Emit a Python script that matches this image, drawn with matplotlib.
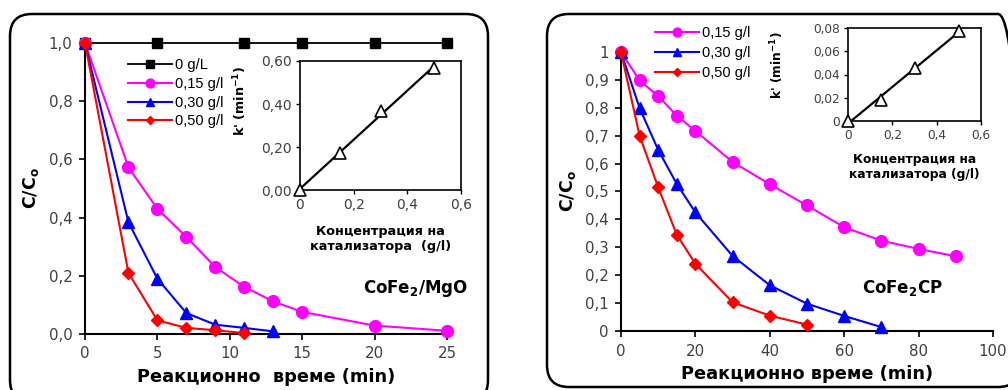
import numpy as np
import matplotlib
matplotlib.use("Agg")
import matplotlib.pyplot as plt
from matplotlib.patches import FancyBboxPatch
from matplotlib.ticker import FuncFormatter, MultipleLocator

plt.rcParams['font.family'] = ['DejaVu Sans']
LEG_FONT = ['Liberation Sans', 'DejaVu Sans']

# --- CoFe2/MgO ---
t_mgo_0 = [0, 5, 11, 15, 20, 25]
c_mgo_0 = [1.0, 1.0, 1.0, 1.0, 1.0, 1.0]
t_mgo_15 = [0, 3, 5, 7, 9, 11, 13, 15, 20, 25]
c_mgo_15 = [1.0, 0.573, 0.43, 0.334, 0.23, 0.162, 0.112, 0.076, 0.029, 0.011]
t_mgo_30 = [0, 3, 5, 7, 9, 11, 13]
c_mgo_30 = [1.0, 0.384, 0.19, 0.072, 0.032, 0.021, 0.009]
t_mgo_50 = [0, 3, 5, 7, 9, 11]
c_mgo_50 = [1.0, 0.21, 0.047, 0.021, 0.013, 0.003]

# --- CoFe2CP ---
t_cp_15 = [0, 5, 10, 15, 20, 30, 40, 50, 60, 70, 80, 90]
c_cp_15 = [1.0, 0.898, 0.842, 0.772, 0.717, 0.606, 0.526, 0.450, 0.372, 0.324, 0.294, 0.268]
t_cp_30 = [0, 5, 10, 15, 20, 30, 40, 50, 60, 70]
c_cp_30 = [1.0, 0.799, 0.649, 0.527, 0.425, 0.269, 0.164, 0.098, 0.054, 0.014]
t_cp_50 = [0, 5, 10, 15, 20, 30, 40, 50]
c_cp_50 = [1.0, 0.700, 0.515, 0.345, 0.241, 0.103, 0.055, 0.023]

# rate constants vs catalyst loading
conc = [0, 0.15, 0.30, 0.50]
k_mgo = [0.0, 0.174, 0.367, 0.566]
k_cp = [0.0, 0.0178, 0.0459, 0.0771]

W, H = 1008, 390
fig = plt.figure(figsize=(W / 100, H / 100), dpi=100)


def px_axes(x0, y0, x1, y1):
    # pixel box (top-left origin) -> figure fraction axes
    return fig.add_axes([x0 / W, 1 - y1 / H, (x1 - x0) / W, (y1 - y0) / H])


def comma(fmt, zero=None):
    def f(v, p):
        if zero is not None and abs(v) < 1e-9:
            return zero
        return (fmt % v).replace('.', ',')
    return FuncFormatter(f)


# rounded frames around each panel
for (x0, y0, x1, y1) in [(10, 14, 488, 402), (547, 14, 1020, 387)]:
    box = FancyBboxPatch((x0 / 100, (H - y1) / 100), (x1 - x0) / 100, (y1 - y0) / 100,
                         boxstyle="round,pad=0,rounding_size=0.22",
                         transform=fig.dpi_scale_trans, fill=False,
                         edgecolor='black', linewidth=1.8, clip_on=False)
    fig.add_artist(box)

tick_col = '#404040'


def style_main(ax):
    for s in ['top', 'right']:
        ax.spines[s].set_visible(False)
    for s in ['left', 'bottom']:
        ax.spines[s].set_linewidth(1.5)
    ax.tick_params(direction='out', length=4, width=1.2, labelsize=10.8,
                   labelcolor=tick_col, pad=5)
    ax.set_facecolor('none')


def style_inset(ax, size):
    for s in ax.spines.values():
        s.set_linewidth(1.2)
    ax.tick_params(direction='out', length=3, width=1.0, labelsize=size,
                   labelcolor=tick_col, pad=3)


def add_legend(ax, x, y, spacing):
    ax.legend(loc='upper left', bbox_to_anchor=(x / W, 1 - y / H), bbox_transform=fig.transFigure,
              frameon=False, prop={'family': LEG_FONT, 'size': 10.5}, handlelength=3.0,
              handletextpad=0.25, labelspacing=spacing, borderpad=0, borderaxespad=0,
              markerscale=0.75)


# ---------------- left panel ----------------
ax1 = px_axes(85, 43, 447, 334)
style_main(ax1)
ax1.plot(t_mgo_0, c_mgo_0, '-s', color='black', ms=7.5, lw=1.3, label='0 g/L', clip_on=False, zorder=3)
ax1.plot(t_mgo_15, c_mgo_15, '-o', color='#FF00FF', ms=8.5, lw=1.5, label='0,15 g/l', clip_on=False, zorder=3)
ax1.plot(t_mgo_30, c_mgo_30, '-^', color='#0000FF', ms=8.5, lw=1.5, label='0,30 g/l', clip_on=False, zorder=4)
ax1.plot(t_mgo_50, c_mgo_50, '-D', color='#FF0000', ms=6, lw=1.5, label='0,50 g/l', clip_on=False, zorder=5)
ax1.set_xlim(0, 25)
ax1.set_ylim(0, 1.0)
ax1.xaxis.set_major_locator(MultipleLocator(5))
ax1.yaxis.set_major_locator(MultipleLocator(0.2))
ax1.yaxis.set_major_formatter(comma('%.1f'))
ax1.set_xlabel('Реакционно  време (min)', fontsize=12.8, fontweight='bold', labelpad=5)
ax1.set_ylabel('C/C$_\\mathbf{o}$', fontsize=12.5, fontweight='bold')
ax1.yaxis.set_label_coords((41 - 85) / 362, 0.5)
add_legend(ax1, 128, 58, 0.33)
ax1.text(363 / W, 1 - 293 / H, 'CoFe$_\\mathbf{2}$/MgO', transform=fig.transFigure, ha='left',
         va='baseline', fontsize=12, fontweight='bold')

ins1 = px_axes(300, 61, 461, 190)
style_inset(ins1, 10)
a, b = np.polyfit(conc, k_mgo, 1)
xf = np.array([conc[0], conc[-1]])
ins1.plot(xf, a * xf + b, '-', color='black', lw=1.6)
ins1.plot(conc, k_mgo, '^', mfc='white', mec='black', mew=1.2, ms=8.5, ls='none', clip_on=False, zorder=3)
ins1.set_xlim(0, 0.6)
ins1.set_ylim(0, 0.6)
ins1.xaxis.set_major_locator(MultipleLocator(0.2))
ins1.yaxis.set_major_locator(MultipleLocator(0.2))
ins1.xaxis.set_major_formatter(comma('%.1f', zero='0'))
ins1.yaxis.set_major_formatter(comma('%.2f'))
ins1.set_xlabel('Концентрация на\nкатализатора  (g/l)', fontsize=9.2, fontweight='bold', labelpad=9,
                linespacing=1.2)
ins1.set_ylabel("k' (min$^{\\mathbf{-1}}$)", fontsize=9.2, fontweight='bold')
ins1.yaxis.set_label_coords((249 - 300) / 161, 0.69)

# ---------------- right panel ----------------
ax2 = px_axes(621, 52, 993, 331)
style_main(ax2)
ax2.plot(t_cp_15, c_cp_15, '-o', color='#FF00FF', ms=8.5, lw=1.5, label='0,15 g/l', clip_on=False, zorder=3)
ax2.plot(t_cp_30, c_cp_30, '-^', color='#0000FF', ms=8.5, lw=1.5, label='0,30 g/l', clip_on=False, zorder=4)
ax2.plot(t_cp_50, c_cp_50, '-D', color='#FF0000', ms=6, lw=1.5, label='0,50 g/l', clip_on=False, zorder=5)
ax2.set_xlim(0, 100)
ax2.set_ylim(0, 1.0)
ax2.xaxis.set_major_locator(MultipleLocator(20))
ax2.yaxis.set_major_locator(MultipleLocator(0.1))
ax2.yaxis.set_major_formatter(FuncFormatter(lambda v, p: ('%g' % round(v, 1)).replace('.', ',')))
ax2.set_xlabel('Реакционно време (min)', fontsize=12.8, fontweight='bold', labelpad=5)
ax2.set_ylabel('C/C$_\\mathbf{o}$', fontsize=12.5, fontweight='bold')
ax2.yaxis.set_label_coords((578 - 621) / 372, 0.5)
add_legend(ax2, 655, 26, 0.42)
ax2.text(862 / W, 1 - 293 / H, 'CoFe$_\\mathbf{2}$CP', transform=fig.transFigure, ha='left',
         va='baseline', fontsize=12, fontweight='bold')

ins2 = px_axes(848, 28, 981, 121)
style_inset(ins2, 8.7)
a, b = np.polyfit(conc, k_cp, 1)
ins2.plot(xf, a * xf + b, '-', color='black', lw=1.6)
ins2.plot(conc, k_cp, '^', mfc='white', mec='black', mew=1.2, ms=8.5, ls='none', clip_on=False, zorder=3)
ins2.set_xlim(0, 0.6)
ins2.set_ylim(0, 0.08)
ins2.xaxis.set_major_locator(MultipleLocator(0.2))
ins2.yaxis.set_major_locator(MultipleLocator(0.02))
ins2.xaxis.set_major_formatter(comma('%.1f', zero='0'))
ins2.yaxis.set_major_formatter(comma('%.2f', zero='0'))
ins2.set_xlabel('Концентрация на\nкатализатора (g/l)', fontsize=8.8, fontweight='bold', labelpad=8,
                linespacing=1.15)
ins2.set_ylabel("k' (min$^{\\mathbf{-1}}$)", fontsize=8.8, fontweight='bold')
ins2.yaxis.set_label_coords((786 - 848) / 133, 0.6)

fig.savefig('out.png', dpi=100)
